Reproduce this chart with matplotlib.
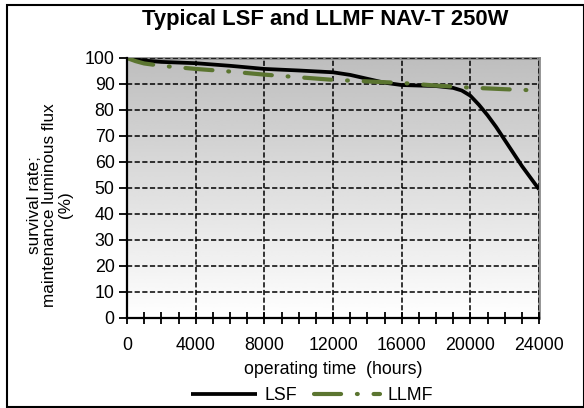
import matplotlib
matplotlib.use("Agg")
import matplotlib.pyplot as plt
import numpy as np
from matplotlib.patches import Rectangle

plt.rcParams['font.family'] = ['Liberation Sans', 'DejaVu Sans']

# ---- data ----
lsf_hours = [0, 1000, 2000, 4000, 6000, 8000, 10000, 12000, 13000, 14000, 15000,
             16000, 17000, 18000, 19000, 19500, 20000, 20500, 21000, 21500,
             22000, 22500, 23000, 23500, 24000]
lsf_values = [100, 99, 98.5, 98, 97, 95.8, 95.2, 94.5, 93.5, 92, 90.5,
              89.6, 89.4, 89.2, 88.5, 87.5, 85.5, 82, 78, 73.5,
              68.5, 63.5, 58.5, 54, 49.5]
llmf_hours = [0, 500, 1000, 2000, 4000, 6000, 8000, 10000, 12000, 14000,
              16000, 18000, 20000, 22000, 24000]
llmf_values = [100, 98.8, 97.9, 97, 95.8, 94.8, 93.6, 92.6, 91.6, 91,
               90.4, 89.4, 88.6, 88, 87.5]
x_ticks = [0, 4000, 8000, 12000, 16000, 20000, 24000]
y_ticks = list(range(0, 101, 10))

title = "Typical LSF and LLMF NAV-T 250W"
xlabel = "operating time  (hours)"
ylabel = "survival rate;\nmaintenance luminous flux\n(%)"

W, H = 584, 408
fig = plt.figure(figsize=(W / 100, H / 100), dpi=100)
ax = fig.add_axes([127 / W, 1 - 318 / H, (539 - 127) / W, (318 - 58) / H])

# gradient background (gray at top, white at bottom)
grad = np.linspace(0.745, 1.0, 256).reshape(-1, 1)
ax.imshow(grad, cmap='gray', vmin=0, vmax=1, aspect='auto', origin='upper',
          extent=[0, 24000, 0, 100], zorder=0, interpolation='bicubic')
ax.set_xlim(0, 24000)
ax.set_ylim(0, 100)

ax.plot(lsf_hours, lsf_values, color='black', lw=2.7, zorder=5,
        solid_joinstyle='round', solid_capstyle='butt', label='LSF')
ln, = ax.plot(llmf_hours, llmf_values, color='#5b7530', lw=3.0, zorder=6,
              label='LLMF', dash_capstyle='round')
ln.set_dashes([6.5, 3.8, 0.2, 3.8])

ax.set_xticks(x_ticks)
ax.set_xticks(np.arange(0, 24001, 1000), minor=True)
ax.set_yticks(y_ticks)
ax.tick_params(axis='x', which='both', direction='inout', length=8, width=1.3,
               labelsize=12.8, pad=10, colors='black')
ax.tick_params(axis='y', which='major', direction='out', length=6, width=1.3,
               labelsize=12.8, pad=3)

ax.grid(True, which='major', color='black', lw=1.1, ls=(0, (3.4, 1.6)), zorder=2)
ax.set_axisbelow(False)

for s in ['left', 'bottom']:
    ax.spines[s].set_color('black')
    ax.spines[s].set_linewidth(1.6)
    ax.spines[s].set_zorder(7)
for s in ['top', 'right']:
    ax.spines[s].set_color('#8c8c8c')
    ax.spines[s].set_linewidth(2.0)
    ax.spines[s].set_zorder(1)

ax.set_xlabel(xlabel, fontsize=12.8, labelpad=5)

fig.text(325 / W, 1 - 19 / H, title, fontsize=15.8, fontweight='bold',
         ha='center', va='center')
fig.text(50 / W, 1 - 205 / H, ylabel, fontsize=12.3, rotation=90,
         ha='center', va='center', multialignment='center', linespacing=1.08)

fig.legend(loc='lower center', bbox_to_anchor=(312 / W, -0.03), ncol=2,
           frameon=False, fontsize=12.8, handlelength=3.7, columnspacing=1.0,
           handletextpad=0.4)

# figure border
fig.patches.append(Rectangle((7 / W, 1.5 / H), 1 - 7 / W, 1 - 6.5 / H,
                             transform=fig.transFigure, fill=False,
                             edgecolor='black', lw=1.5))

fig.savefig('out.png', dpi=100)
